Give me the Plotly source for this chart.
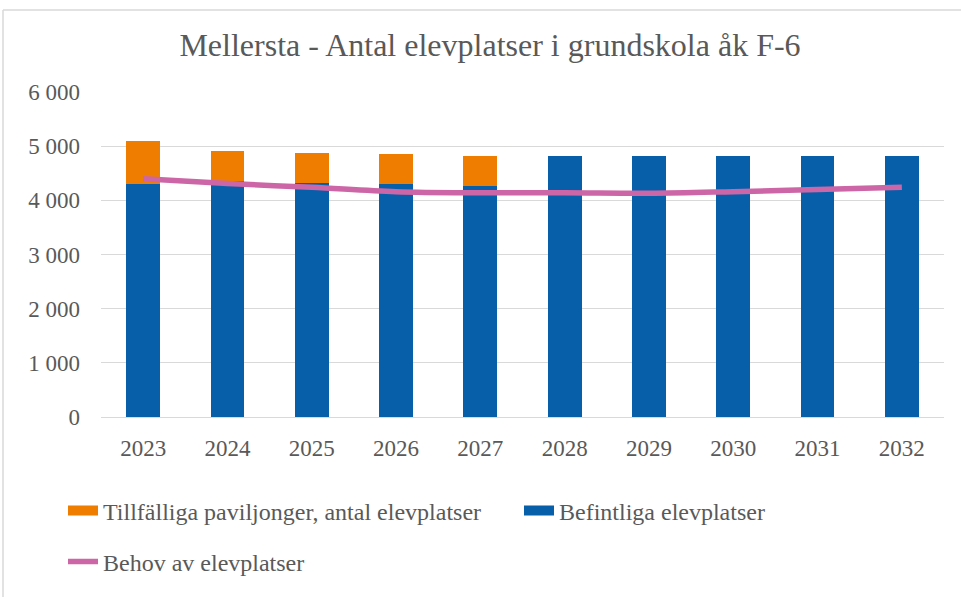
import plotly.graph_objects as go

years = ["2023", "2024", "2025", "2026", "2027", "2028", "2029", "2030", "2031", "2032"]
befintliga = [4310, 4360, 4320, 4310, 4265, 4820, 4820, 4820, 4820, 4820]
paviljonger = [790, 550, 555, 545, 555, 0, 0, 0, 0, 0]
behov = [4400, 4310, 4240, 4160, 4140, 4140, 4130, 4160, 4200, 4240]
y_ticks = [0, 1000, 2000, 3000, 4000, 5000, 6000]
y_tick_labels = ["0", "1 000", "2 000", "3 000", "4 000", "5 000", "6 000"]

FONT = "Liberation Serif"
GREY = "#595959"
BLUE = "#075FAA"
ORANGE = "#EF7D00"
PINK = "#CC66A6"

fig = go.Figure()
fig.add_trace(go.Bar(x=years, y=befintliga, name="Befintliga elevplatser",
                     marker=dict(color=BLUE, line=dict(width=0)), showlegend=False))
fig.add_trace(go.Bar(x=years, y=paviljonger, name="Tillfälliga paviljonger, antal elevplatser",
                     marker=dict(color=ORANGE, line=dict(width=0)), showlegend=False))
fig.add_trace(go.Scatter(x=years, y=behov, name="Behov av elevplatser", mode="lines",
                         line=dict(color=PINK, width=5.5, shape="spline"), legend="legend2"))
# legend entries (wide rectangular keys like the original)
fig.add_trace(go.Scatter(x=[None], y=[None], mode="lines", name="Tillfälliga paviljonger, antal elevplatser",
                         line=dict(color=ORANGE, width=11), legend="legend", hoverinfo="skip"))
fig.add_trace(go.Scatter(x=[None], y=[None], mode="lines", name="Befintliga elevplatser",
                         line=dict(color=BLUE, width=11), legend="legend3", hoverinfo="skip"))

L, R, T, B = 101, 17, 92, 180
W, H = 961, 597
pw, ph = W - L - R, H - T - B

def px(xp):
    return (xp - L) / pw

def py(yp):
    return (H - B - yp) / ph

legend_common = dict(orientation="h", xanchor="left", yanchor="middle",
                     font=dict(family=FONT, size=24, color=GREY),
                     itemwidth=30, bgcolor="rgba(0,0,0,0)")

fig.update_layout(
    width=W, height=H,
    margin=dict(l=L, r=R, t=T, b=B, pad=0),
    paper_bgcolor="white", plot_bgcolor="white",
    barmode="stack", bargap=0.6,
    font=dict(family=FONT, color=GREY, size=23),
    title=dict(text="Mellersta - Antal elevplatser i grundskola åk F-6",
               font=dict(family=FONT, size=32, color=GREY),
               x=490 / W, xanchor="center", xref="container", y=1 - 45 / H, yanchor="middle"),
    xaxis=dict(showgrid=False, showline=True, linecolor="#D9D9D9", linewidth=1,
               ticks="", tickfont=dict(family=FONT, size=23, color=GREY), ticklabelstandoff=10),
    yaxis=dict(range=[0, 6000], tickvals=y_ticks, ticktext=y_tick_labels,
               showgrid=True, gridcolor="#D9D9D9", gridwidth=1, zeroline=False,
               showline=False, ticks="", tickfont=dict(family=FONT, size=23, color=GREY),
               ticklabelstandoff=20),
    legend=dict(x=px(63), y=py(511), **legend_common),
    legend3=dict(x=px(519), y=py(511), **legend_common),
    legend2=dict(x=px(63), y=py(562), **legend_common),
    showlegend=True,
    shapes=[
        dict(type="line", xref="paper", yref="paper", x0=px(3), x1=px(W + 5), y0=py(10), y1=py(10),
             line=dict(color="#D9D9D9", width=1.5)),
        dict(type="line", xref="paper", yref="paper", x0=px(3), x1=px(3), y0=py(10), y1=py(H + 5),
             line=dict(color="#D9D9D9", width=1.5)),
    ],
)

fig.write_html("out.html", config={"displayModeBar": False},
               post_script="document.body.style.margin='0px';")
